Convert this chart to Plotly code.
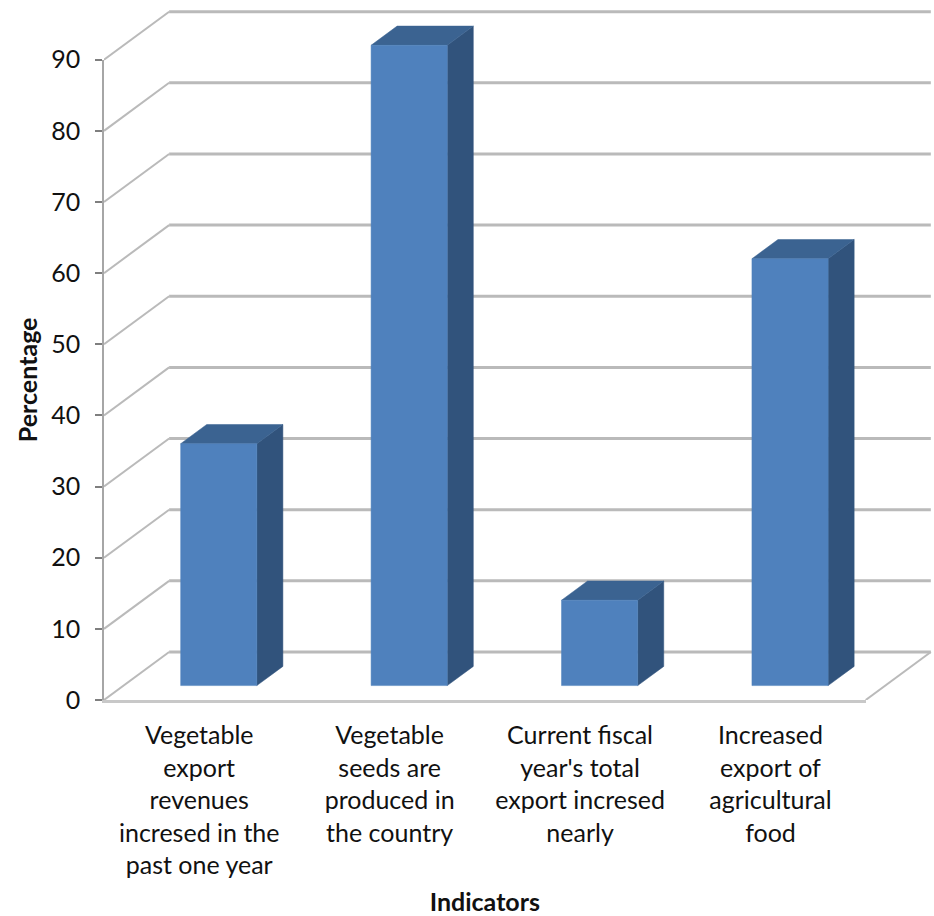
import plotly.graph_objects as go

# Survey results by indicator
categories = [
    "Vegetable<br>export<br>revenues<br>incresed in the<br>past one year",
    "Vegetable<br>seeds are<br>produced in<br>the country",
    "Current fiscal<br>year's total<br>export incresed<br>nearly",
    "Increased<br>export of<br>agricultural<br>food",
]
values = [34, 90, 12, 60]
y_ticks = [0, 10, 20, 30, 40, 50, 60, 70, 80, 90]

# Oblique projection: how far the back wall is shifted, in axis units
DEPTH_X = 0.342
DEPTH_Y = 6.75
# Bars fill the middle of each slot, both across and in depth
BAR_WIDTH = 0.40
BAR_FRONT = 0.30
BAR_DEPTH = 0.40

FRONT_COLOR = "#4F81BD"
SIDE_COLOR = "#31537C"
TOP_COLOR = "#3B6391"
GRID_COLOR = "#BABABA"
FONT = "Lato"
TEXT = "#111111"

# The visible axes cover the front plane; the marks live on a second, hidden
# pair of axes with the same scale, extended so the back wall fits
X_DOMAIN_END = 761.7 / 830
Y_DOMAIN_END = 640.3 / 700

n = len(values)


def project(x, y, depth):
    """Map a point on the chart floor/wall at a depth fraction to axis units."""
    return x + DEPTH_X * depth, y + DEPTH_Y * depth


def marks(**kwargs):
    return go.Scatter(xaxis="x2", yaxis="y2", hoverinfo="skip", **kwargs)


fig = go.Figure()

# Anchors the visible axes so their ticks, labels and titles are drawn
fig.add_trace(go.Scatter(x=[0, n], y=[0, 90], mode="none", hoverinfo="skip"))

# Wall gridlines with the short diagonals running back from the value axis
wall_x, wall_y, side_x, side_y = [], [], [], []
for t in y_ticks:
    bx0, by0 = project(0, t, 1)
    bx1, by1 = project(n, t, 1)
    wall_x += [bx0, bx1, None]
    wall_y += [by0, by1, None]
    side_x += [0, bx0, None]
    side_y += [t, by0, None]
fig.add_trace(marks(x=wall_x, y=wall_y, mode="lines", line=dict(color=GRID_COLOR, width=3)))
fig.add_trace(marks(x=side_x, y=side_y, mode="lines", line=dict(color=GRID_COLOR, width=2)))

# Right-hand edge of the floor
fx, fy = project(n, 0, 1)
fig.add_trace(marks(x=[n, fx], y=[0, fy], mode="lines", line=dict(color=GRID_COLOR, width=2)))


def face(points, color):
    xs = [p[0] for p in points] + [points[0][0]]
    ys = [p[1] for p in points] + [points[0][1]]
    fig.add_trace(marks(x=xs, y=ys, mode="lines", fill="toself", fillcolor=color,
                        line=dict(color=color, width=0.5)))


# Three visible faces per bar, each built from its value
for i, v in enumerate(values):
    left = i + 0.5 - BAR_WIDTH / 2
    right = i + 0.5 + BAR_WIDTH / 2
    d0, d1 = BAR_FRONT, BAR_FRONT + BAR_DEPTH
    face([project(right, 0, d0), project(right, 0, d1),
          project(right, v, d1), project(right, v, d0)], SIDE_COLOR)
    face([project(left, v, d0), project(right, v, d0),
          project(right, v, d1), project(left, v, d1)], TOP_COLOR)
    face([project(left, 0, d0), project(right, 0, d0),
          project(right, v, d0), project(left, v, d0)], FRONT_COLOR)

fig.update_layout(
    width=934,
    height=916,
    autosize=False,
    showlegend=False,
    paper_bgcolor="white",
    plot_bgcolor="rgba(0,0,0,0)",
    margin=dict(l=104, r=0, t=0, b=216),
    font=dict(family=FONT, color=TEXT),
    xaxis=dict(
        domain=[0, X_DOMAIN_END],
        range=[0, n],
        tickvals=[i + 0.5 for i in range(n)],
        ticktext=categories,
        tickfont=dict(size=25, color=TEXT),
        ticklen=0,
        ticklabelstandoff=11,
        showgrid=False,
        zeroline=False,
        showline=True,
        linecolor="#C8C8C8",
        linewidth=3,
        automargin=False,
        title=dict(text="<b>Indicators</b>", font=dict(size=25, color=TEXT), standoff=42),
    ),
    yaxis=dict(
        domain=[0, Y_DOMAIN_END],
        range=[0, 90],
        tickvals=y_ticks,
        tickfont=dict(size=25, color=TEXT),
        ticks="outside",
        ticklen=7,
        tickcolor="#7F7F7F",
        tickwidth=1.5,
        ticklabelstandoff=10,
        showgrid=False,
        zeroline=False,
        showline=True,
        linecolor="#A6A6A6",
        linewidth=1.5,
        automargin=False,
        title=dict(text="<b>Percentage</b>", font=dict(size=25, color=TEXT), standoff=6),
    ),
    xaxis2=dict(domain=[0, 1], range=[0, n / X_DOMAIN_END], anchor="y2", visible=False),
    yaxis2=dict(domain=[0, 1], range=[0, 90 / Y_DOMAIN_END], anchor="x2", visible=False),
)

fig.write_html("out.html", config=dict(displayModeBar=False))
